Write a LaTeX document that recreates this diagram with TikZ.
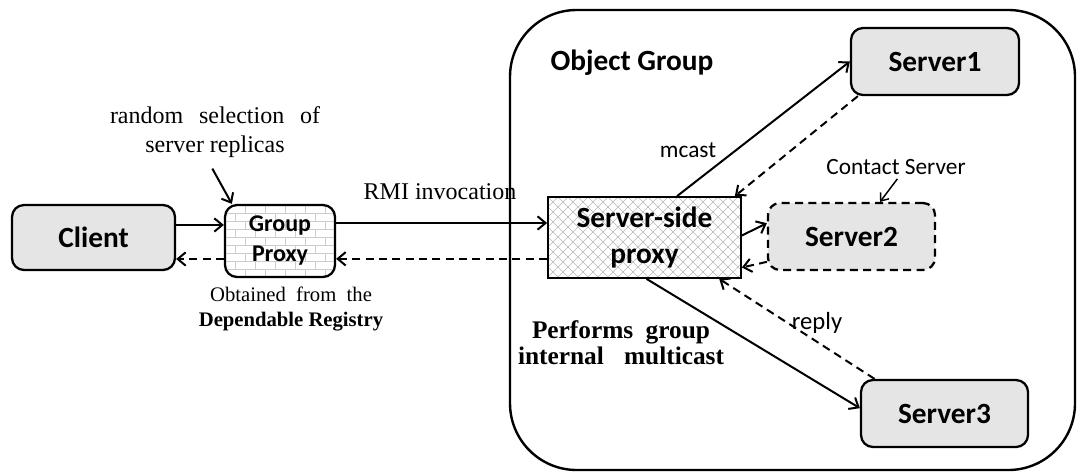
\documentclass[tikz,border=0pt]{standalone}
\usepackage{fontspec}
\setmainfont{Liberation Serif}
\newfontfamily\calfont{Carlito}
\usetikzlibrary{arrows.meta,calc}

\tikzset{
  box/.style={draw, line width=1.7pt, rounded corners=9pt, inner sep=0pt, align=center,
    font=\calfont\bfseries\fontsize{22}{27}\selectfont},
  grey/.style={fill=black!10},
  brickfill/.style={fill=white, path picture={
    \coordinate (bnw) at (path picture bounding box.north west);
    \foreach \i in {0,...,10}{
      \draw[black!20, line width=0.6pt] ($(bnw)+(0,\i*8)$) -- ++(130,0);
      \pgfmathtruncatemacro\brickoff{mod(\i,2)*10}
      \foreach \j in {0,...,6}{
        \draw[black!20, line width=0.6pt] ($(bnw)+(\j*20+\brickoff,\i*8)$) -- ++(0,8);
      }
    }}},
  hatchfill/.style={fill=white, path picture={
    \coordinate (hnw) at (path picture bounding box.north west);
    \foreach \k in {-10,...,30}{
      \draw[black!28, line width=0.45pt] ($(hnw)+(\k*10,0)$) -- ++(100,100);
      \draw[black!28, line width=0.45pt] ($(hnw)+(\k*10,0)$) -- ++(-100,100);
    }}},
  link/.style={line width=1.5pt, -{Straight Barb[length=6pt,width=10pt]}},
  back/.style={link, dash pattern=on 6pt off 4pt},
  note/.style={line width=1.1pt, -{Straight Barb[length=5pt,width=8pt]}},
  serif/.style={font=\fontsize{18}{22}\selectfont, inner sep=0pt, align=center},
  label/.style={font=\calfont\fontsize{17.5}{21}\selectfont, inner sep=0pt},
}

\begin{document}
\begin{tikzpicture}[x=0.75pt,y=-0.75pt]
\useasboundingbox (0,0) rectangle (1077,475);

% object group container
\node[draw, line width=1.8pt, rounded corners=50pt, minimum width=423.75pt, minimum height=345pt, inner sep=0pt]
  (og) at (792.5,240) {};
\node[font=\calfont\bfseries\fontsize{22}{27}\selectfont, inner sep=0pt] (ogl) at (632,63) {Object Group};

% boxes
\node[box, grey, minimum width=122.25pt, minimum height=48.75pt] (cl) at (93.5,237.5) {Client};
\node[box, brickfill, minimum width=82.5pt, minimum height=54pt,
  font=\calfont\bfseries\fontsize{18}{22.5}\selectfont] (gp) at (280,241) {Group\\Proxy};
\node[box, hatchfill, rounded corners=0pt, line width=1.3pt, minimum width=144.75pt, minimum height=60.75pt]
  (sp) at (644.5,237.5) {Server-side\\proxy};
\node[box, grey, minimum width=126pt, minimum height=50.25pt] (s1) at (935,61.5) {Server1};
\node[box, grey, dash pattern=on 6pt off 4pt, minimum width=125.25pt, minimum height=50.25pt]
  (s2) at (851.5,236.5) {Server2};
\node[box, grey, minimum width=125.25pt, minimum height=50.25pt] (s3) at (944.5,413.5) {Server3};

% annotations
\node[serif] (rs) at (215,132) {\makebox[157.5pt][s]{random selection of}\\server replicas};
\node[serif] (rmi) at (440,192) {RMI invocation};
\node[inner sep=0pt, align=center, font=\fontsize{15.5}{19}\selectfont] (reg) at (291,309)
  {Obtained\ \ from\ \ the\\\textbf{Dependable Registry}};
\node[serif, font=\bfseries\fontsize{19}{19.5}\selectfont] (pgm) at (621,343)
  {\makebox[133.5pt][s]{Performs group}\\\makebox[154.5pt][s]{internal multicast}};
\node[label] (mc) at (688,150) {mcast};
\node[label] (cs) at (896,167) {Contact Server};
\node[label, font=\calfont\fontsize{18.5}{21}\selectfont] (rp) at (817,323) {reply};

% client side
\draw[link] ([yshift=9.4pt]cl.east) -- ([yshift=9.4pt]cl.east -| gp.west);
\draw[back] ([yshift=-13.5pt]gp.west) -- ([yshift=-13.5pt]gp.west -| cl.east);
\draw[link] ([yshift=13.5pt]gp.east) -- ([yshift=13.5pt]gp.east -| sp.west);
\draw[back] ([yshift=-16pt]sp.west) -- ([yshift=-16pt]sp.west -| gp.east);
\draw[link] ([shift={(-2pt,-8pt)}]rs.south) -- ([xshift=6pt]gp.north west);

% group internal multicast
\draw[link] ([xshift=24.4pt]sp.north) -- (s1.west);
\draw[back] ([xshift=6pt]s1.south west) -- ([xshift=-5.25pt]sp.north east);
\draw[link] ([yshift=1.5pt]sp.east) -- ([yshift=10pt]s2.west);
\draw[back] ([yshift=-19pt]s2.west) -- ([yshift=-22.5pt]sp.east);
\draw[link] ([xshift=1.5pt]sp.south) -- ([yshift=4pt]s3.west);
\draw[back] ([xshift=11pt]s3.north west) -- ([xshift=-17pt]sp.south east);
\draw[note] ([shift={(1pt,-3pt)}]cs.south) -- ([xshift=21.4pt]s2.north);
\end{tikzpicture}
\end{document}
